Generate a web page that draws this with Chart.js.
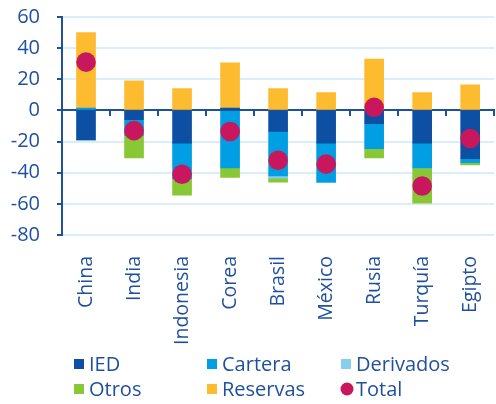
<!DOCTYPE html>
<html>
<head>
<meta charset="utf-8">
<script src="https://cdn.jsdelivr.net/npm/chart.js@4.4.1/dist/chart.umd.min.js"></script>
<style>
  html, body { margin: 0; padding: 0; background: #fff; overflow: hidden; }
  #wrap { width: 504px; height: 404px; }
</style>
</head>
<body>
<div id="wrap"><canvas id="flows" width="504" height="404"></canvas></div>
<script>
// categories + series (% roughly)
const categories = ['China', 'India', 'Indonesia', 'Corea', 'Brasil', 'México', 'Rusia', 'Turquía', 'Egipto']
const ied       = [-19, -6, -21, 1.5, -13.5, -21, -8.5, -21, -31]
const cartera   = [1.5, -10, -23, -37, -28.5, -25, -16, -16, -2.5]
const derivados = [0, 0, 0, 0, -1.5, 0, 0, 0, 0]
const otros     = [0, -14.5, -10.5, -6, -2.5, 0, -6, -22.5, -1.5]
const reservas  = [48.5, 19, 14, 29, 14, 11.5, 33, 11.5, 16.5]
const total     = [31, -13, -41, -13.5, -32, -34.5, 2, -48.5, -18]
const yMin = -80, yMax = 60, yStep = 20

const textBlue = '#1f4f9f'
const gridBlue = '#d8eef9'

// legend drawn as a 3 column grid like the original
const gridLegend = {
    id: 'gridLegend',
    afterDraw(chart) {
        const ctx = chart.ctx
        const cols = [74, 207, 341]
        const rows = [364, 389]
        ctx.save()
        ctx.font = '20px "Open Sans"'
        ctx.textBaseline = 'middle'
        chart.data.datasets.forEach((ds, i) => {
            const x = cols[i % 3]
            const y = rows[Math.floor(i / 3)]
            ctx.fillStyle = ds.backgroundColor
            if (ds.type === 'line') {
                ctx.beginPath()
                ctx.arc(x + 6, y, 6.5, 0, Math.PI * 2)
                ctx.fill()
            } else {
                ctx.fillRect(x, y - 5, 10, 10)
            }
            ctx.fillStyle = textBlue
            ctx.fillText(ds.label, x + 15, y + 1)
        })
        ctx.restore()
    }
}

// horizontal grid lines were not showing up, draw them off the y scale ticks
const yGrid = {
    id: 'yGrid',
    beforeDatasetsDraw(chart) {
        const {ctx, chartArea, scales} = chart
        ctx.save()
        ctx.strokeStyle = gridBlue
        ctx.lineWidth = 2
        scales.y.ticks.forEach(t => {
            if (t.value === 0) return
            const py = Math.round(scales.y.getPixelForValue(t.value))
            ctx.beginPath()
            ctx.moveTo(chartArea.left + 1, py)
            ctx.lineTo(chartArea.right, py)
            ctx.stroke()
        })
        ctx.restore()
    }
}

const bar = (label, data, color) => ({
    label: label, data: data, backgroundColor: color,
    stack: 'flows', order: 1, barThickness: 19, borderWidth: 0
})

// chart.js adds label/padding room around the plot, pin the boxes instead
const noPad = s => { s.paddingLeft = 0; s.paddingRight = 0; s.paddingTop = 0; s.paddingBottom = 0 }

new Chart(document.getElementById('flows'), {
    type: 'bar',
    data: {
        labels: categories,
        datasets: [
            bar('IED', ied, '#0c4fa3'),
            bar('Cartera', cartera, '#009ee2'),
            bar('Derivados', derivados, '#86cef0'),
            bar('Otros', otros, '#88c735'),
            bar('Reservas', reservas, '#fdbb2f'),
            {
                type: 'line', label: 'Total', data: total,
                backgroundColor: '#c8175d', borderColor: '#c8175d',
                showLine: false, pointRadius: 9.8, pointBorderWidth: 0,
                stack: 'total', order: 0
            }
        ]
    },
    options: {
        responsive: false,
        animation: false,
        layout: { padding: { left: 11, right: 2, top: 17, bottom: 44 } },
        plugins: { legend: { display: false }, tooltip: { enabled: false } },
        scales: {
            // axis line sitting on zero, ticks between categories
            x: {
                type: 'category',
                position: { y: 0 },
                stacked: true,
                offset: true,
                ticks: { display: false },
                grid: { offset: true, drawOnChartArea: false, drawTicks: true, tickLength: 5, color: textBlue, lineWidth: 2 },
                border: { color: textBlue, width: 2 },
                afterFit: noPad
            },
            // only the rotated labels at the bottom
            x2: {
                type: 'category',
                labels: categories,
                position: 'bottom',
                offset: true,
                grid: { display: false, drawTicks: false },
                border: { display: false },
                ticks: { color: textBlue, font: { family: 'Open Sans', size: 19.5 }, minRotation: 90, maxRotation: 90, autoSkip: false, padding: 21 },
                afterFit: s => { noPad(s); s.height = 125 }
            },
            y: {
                stacked: true,
                min: yMin, max: yMax,
                ticks: { stepSize: yStep, autoSkip: false, color: textBlue, font: { family: 'Open Sans', size: 20 }, padding: 17 },
                grid: { drawOnChartArea: false, tickColor: textBlue, tickLength: 5, drawTicks: true, lineWidth: 2 },
                border: { color: textBlue, width: 2 },
                afterFit: s => { noPad(s); s.width = 51 }
            }
        }
    },
    plugins: [yGrid, gridLegend]
})
</script>
</body>
</html>
